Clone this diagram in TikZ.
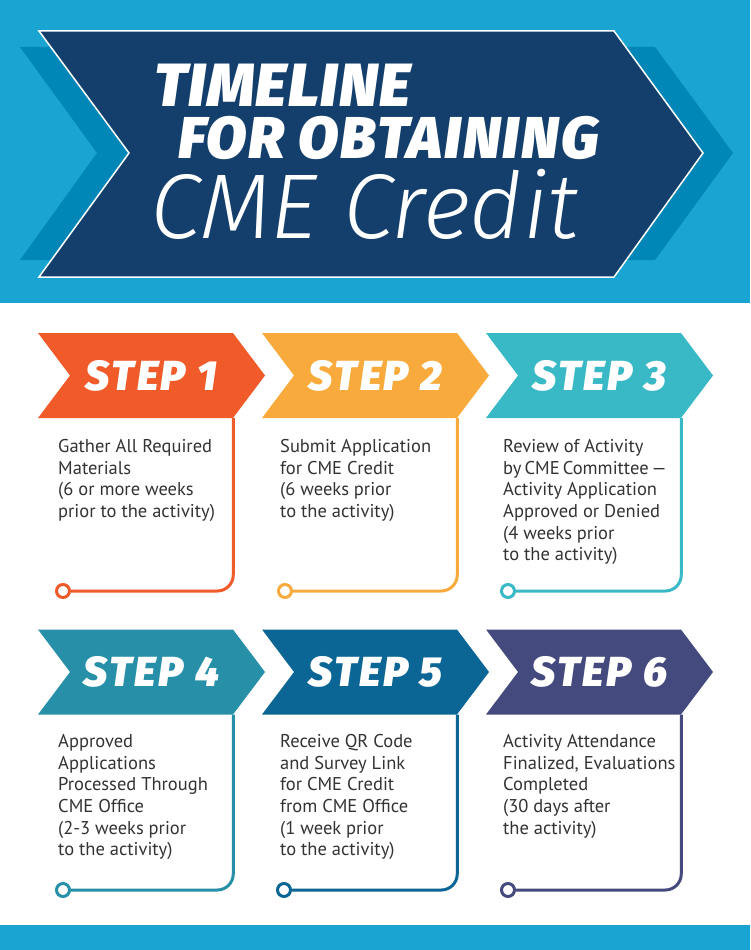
\documentclass[tikz,border=0pt]{standalone}
\usepackage{fontspec}
\setmainfont{PT Sans}
\newfontfamily\heavyfont{Fira Sans Black Italic}
\newfontfamily\lightfont{Fira Sans Light Italic}
\usepackage{tikz}
\usetikzlibrary{shapes.symbols,positioning,calc}
\definecolor{cme-sky}{HTML}{1AA4D1}
\definecolor{cme-mid}{HTML}{0087B7}
\definecolor{cme-navy}{HTML}{143F6C}
\definecolor{cme-text}{HTML}{333333}
\definecolor{c-step1}{HTML}{F15A29}
\definecolor{c-step2}{HTML}{F8AB3C}
\definecolor{c-step3}{HTML}{38B9C5}
\definecolor{c-step4}{HTML}{2790A8}
\definecolor{c-step5}{HTML}{0B6595}
\definecolor{c-step6}{HTML}{454A7E}

\begin{document}
\begin{tikzpicture}[x=1pt, y=-1pt,
  chev/.style={signal, signal from=west, signal to=east, signal pointer angle=106,
               minimum width=227pt, minimum height=85pt, inner sep=0pt, text=white,
               font=\heavyfont\fontsize{42}{42}\selectfont\addfontfeature{LetterSpace=6}},
  desc/.style={anchor=north west, align=left, inner sep=0pt, text=cme-text,
               font=\fontsize{18.5}{21.7}\selectfont},
  dot/.style={circle, draw=#1, line width=3pt, fill=white, minimum size=13pt, inner sep=0pt},
  trail/.style={draw=#1, line width=3pt, rounded corners=16pt},
  title/.style={anchor=base west, inner sep=0pt, text=white, text height=30pt, text depth=0pt}]

  \useasboundingbox (0,0) rectangle (750,950);
  \fill[white] (0,0) rectangle (750,950);

  % banner
  \fill[cme-sky] (0,0) rectangle (750,303);
  \fill[cme-mid] (20,47) -- (655,47) -- (733,153) -- (655,260) -- (20,260) -- (97,153) -- cycle;
  \filldraw[fill=cme-navy, draw=white, line width=1.5pt]
    (39,31) -- (614,31) -- (703,153) -- (614,277) -- (39,277) -- (129,153) -- cycle;
  \node[title, font=\heavyfont\fontsize{61}{61}\selectfont\addfontfeature{LetterSpace=2}] (title1) at (154,106) {TIMELINE};
  \node[title, font=\heavyfont\fontsize{59}{59}\selectfont\addfontfeature{LetterSpace=3}] (title2) at (178,158) {FOR OBTAINING};
  \node[title, font=\lightfont\fontsize{92}{92}\selectfont] (title3) at (150,238) {CME Credit};

  % steps
  \node[chev, fill=c-step1] (step1) at (151.5,375.5) {STEP 1};
  \node[chev, fill=c-step2] (step2) at (375.5,375.5) {STEP 2};
  \node[chev, fill=c-step3] (step3) at (599.5,375.5) {STEP 3};
  \node[chev, fill=c-step4] (step4) at (151.5,672) {STEP 4};
  \node[chev, fill=c-step5] (step5) at (375.5,672) {STEP 5};
  \node[chev, fill=c-step6] (step6) at (599.5,672) {STEP 6};

  \node[desc] (desc1) at (58,439) {Gather All Required\\Materials\\(6 or more weeks\\prior to the activity)};
  \node[desc] (desc2) at (280,439) {Submit Application\\for CME Credit\\(6 weeks prior\\to the activity)};
  \node[desc] (desc3) at (503,439) {Review of Activity\\by\,CME\,Committee\,---\\Activity Application\\Approved or Denied\\(4 weeks prior\\to the activity)};
  \node[desc] (desc4) at (58,734) {Approved\\Applications\\Processed Through\\CME Office\\(2-3 weeks prior\\to the activity)};
  \node[desc] (desc5) at (280,734) {Receive QR Code\\and Survey Link\\for CME Credit\\from CME Office\\(1 week prior\\to the activity)};
  \node[desc] (desc6) at (503,734) {Activity Attendance\\Finalized, Evaluations\\Completed\\(30 days after\\the activity)};

  \node[dot=c-step1] (dot1) at (63,591) {};
  \node[dot=c-step2] (dot2) at (285,591) {};
  \node[dot=c-step3] (dot3) at (508,591) {};
  \node[dot=c-step4] (dot4) at (63,890) {};
  \node[dot=c-step5] (dot5) at (284,890) {};
  \node[dot=c-step6] (dot6) at (508,890) {};

  \coordinate (foot1) at ([xshift=-32pt]step1.east |- step1.south);
  \coordinate (foot2) at ([xshift=-32pt]step2.east |- step2.south);
  \coordinate (foot3) at ([xshift=-32pt]step3.east |- step3.south);
  \coordinate (foot4) at ([xshift=-32pt]step4.east |- step4.south);
  \coordinate (foot5) at ([xshift=-32pt]step5.east |- step5.south);
  \coordinate (foot6) at ([xshift=-32pt]step6.east |- step6.south);

  \draw[trail=c-step1] (foot1) |- (dot1);
  \draw[trail=c-step2] (foot2) |- (dot2);
  \draw[trail=c-step3] (foot3) |- (dot3);
  \draw[trail=c-step4] (foot4) |- (dot4);
  \draw[trail=c-step5] (foot5) |- (dot5);
  \draw[trail=c-step6] (foot6) |- (dot6);

  % footer bar
  \fill[cme-sky] (0,925) rectangle (750,950);
\end{tikzpicture}
\end{document}
